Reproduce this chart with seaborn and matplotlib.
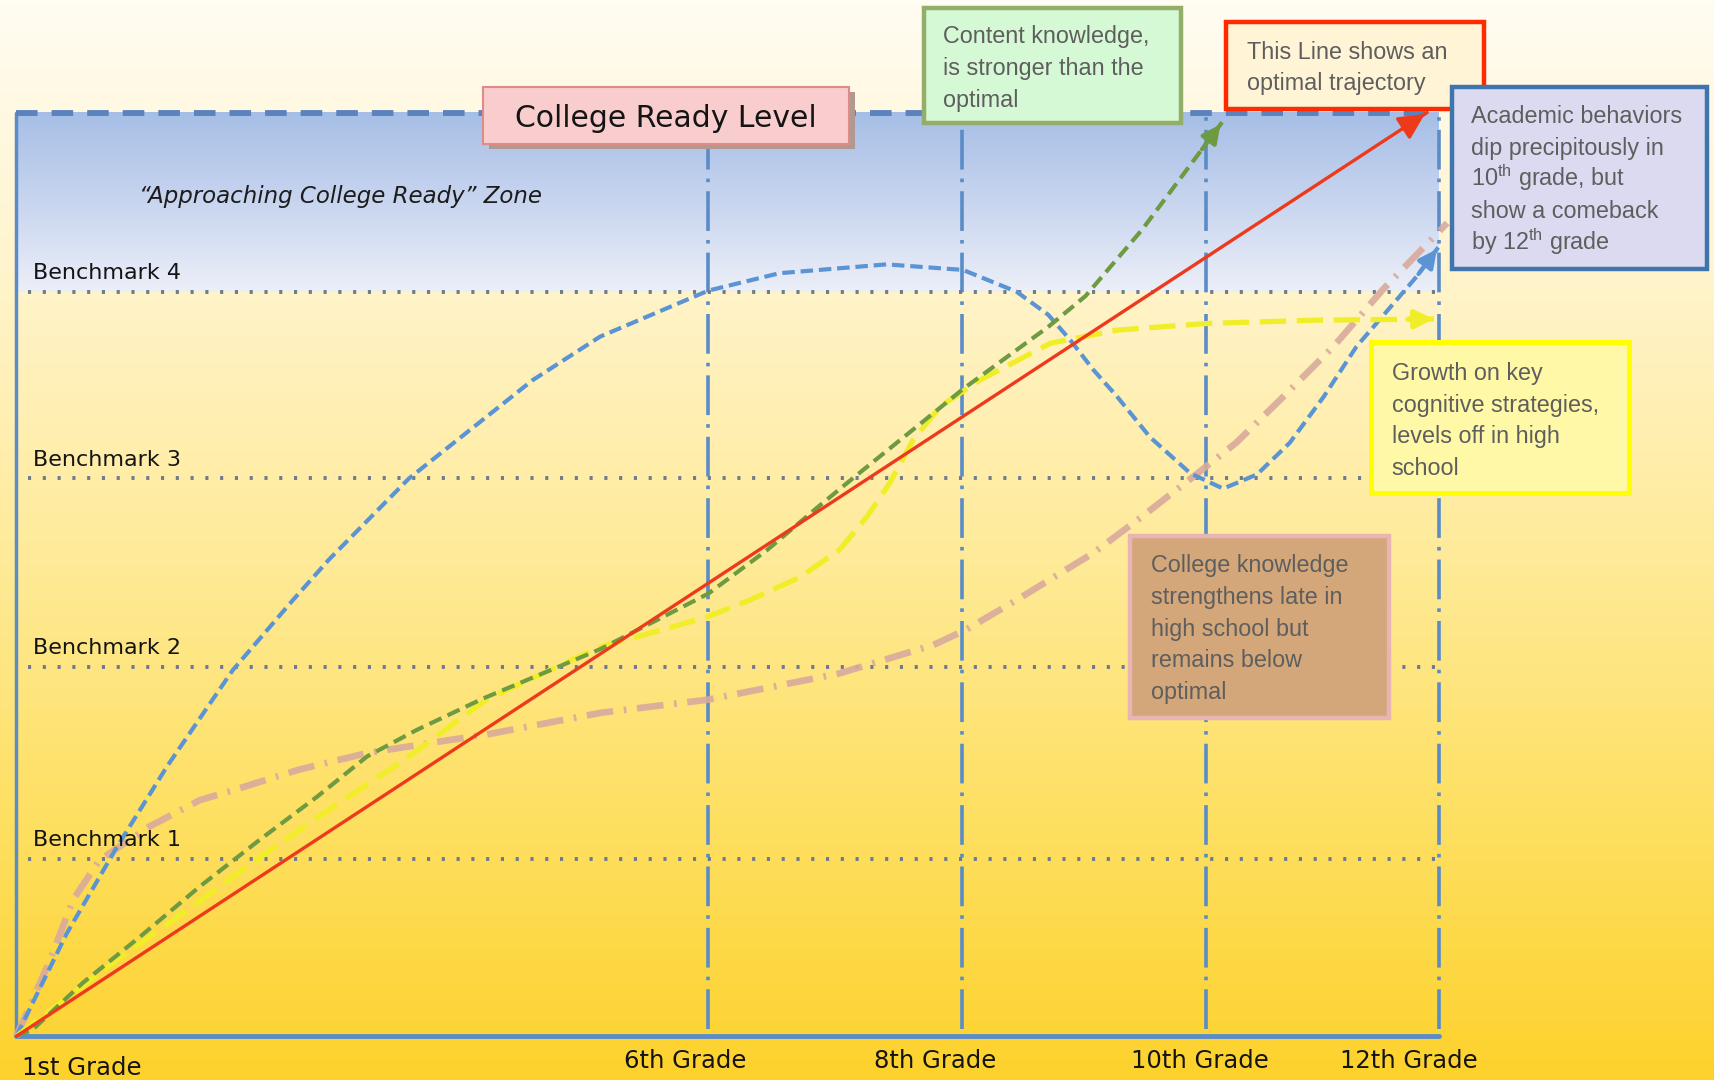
import numpy as np
import pandas as pd
import seaborn as sns
import matplotlib.pyplot as plt
from matplotlib.colors import LinearSegmentedColormap
from matplotlib.patches import Rectangle

# x positions of the grade lines (the original is not evenly spaced)
GRADES = ["1st Grade", "6th Grade", "8th Grade", "10th Grade", "12th Grade"]
GRADE_X = [0.0, 4.865, 6.649, 8.363, 10.0]
BENCHMARKS = ["Benchmark 1", "Benchmark 2", "Benchmark 3", "Benchmark 4"]
BENCH_Y = [0.96, 2.0, 3.02, 4.03]
COLLEGE_READY = 5.0

# optimal trajectory (red)
optimal_x = [0.0, 9.92]
optimal_y = [0.0, 5.0]
# content knowledge (green)
content_x = [0, 0.115, 0.469, 0.869, 1.291, 1.714, 2.114, 2.467, 2.813, 3.282, 4.105, 4.866, 5.281,
             5.626, 5.888, 6.211, 6.449, 6.656, 6.941, 7.256, 7.517, 7.917, 8.478]
content_y = [0, 0.036, 0.290, 0.538, 0.811, 1.065, 1.296, 1.515, 1.657, 1.828, 2.095, 2.396, 2.633,
             2.858, 3.024, 3.225, 3.373, 3.503, 3.663, 3.840, 4.006, 4.367, 4.947]
# key cognitive strategies (yellow)
cognitive_x = [0, 0.707, 1.176, 1.760, 2.229, 2.698, 3.305, 4.105, 4.573, 4.866, 5.158, 5.511, 5.788,
               5.980, 6.141, 6.303, 6.495, 6.772, 7.271, 7.740, 8.370, 9.147, 9.985]
cognitive_y = [0, 0.414, 0.669, 0.994, 1.243, 1.479, 1.822, 2.107, 2.207, 2.272, 2.361, 2.485, 2.633,
               2.811, 2.994, 3.225, 3.408, 3.550, 3.751, 3.822, 3.858, 3.876, 3.882]
# academic behaviors (blue)
behavior_x = [0, 0.354, 0.707, 1.061, 1.522, 1.945, 2.198, 2.759, 3.628, 4.105, 4.866, 5.365, 6.118,
              6.656, 7.033, 7.256, 7.410, 7.571, 7.740, 7.971, 8.255, 8.486, 8.724, 8.955, 9.193,
              9.424, 9.662, 9.846, 10.0]
behavior_y = [0, 0.556, 1.024, 1.462, 1.982, 2.361, 2.580, 3.018, 3.550, 3.787, 4.036, 4.130, 4.178,
              4.148, 4.030, 3.905, 3.769, 3.609, 3.462, 3.243, 3.047, 2.964, 3.041, 3.213, 3.462,
              3.734, 3.947, 4.112, 4.272]
# college knowledge (pink)
knowledge_x = [0, 0.238, 0.400, 0.584, 0.938, 1.291, 1.522, 1.991, 2.467, 3.052, 3.305, 4.112, 4.866,
               5.788, 6.449, 6.679, 7.033, 7.571, 7.902, 8.278, 8.578, 8.909, 9.262, 9.608, 10.061]
knowledge_y = [0, 0.414, 0.740, 0.953, 1.136, 1.278, 1.331, 1.444, 1.533, 1.604, 1.633, 1.751, 1.822,
               1.964, 2.118, 2.201, 2.361, 2.615, 2.805, 3.030, 3.213, 3.462, 3.734, 4.041, 4.402]

content_note = ["Content knowledge,", "is stronger than the", "optimal"]
optimal_note = ["This Line shows an", "optimal trajectory"]
behavior_note = ["Academic behaviors", "dip precipitously in", "10$^{\\mathrm{th}}$ grade, but",
                 "show a comeback", "by 12$^{\\mathrm{th}}$ grade"]
cognitive_note = ["Growth on key", "cognitive strategies,", "levels off in high", "school"]
knowledge_note = ["College knowledge", "strengthens late in", "high school but", "remains below",
                  "optimal"]

sns.set_theme(style="white")
plt.rcParams["font.family"] = ["DejaVu Sans"]
plt.rcParams["mathtext.fontset"] = "custom"
plt.rcParams["mathtext.rm"] = "Liberation Sans"
BOXFONT = ["Liberation Sans", "DejaVu Sans"]

fig = plt.figure(figsize=(17.14, 10.8), dpi=100)
ax = fig.add_axes([0, 0, 1, 1])
XLIM = (-0.115, 11.937)
YLIM = (-0.237, 5.609)

# background gradients
bg = LinearSegmentedColormap.from_list("bg", ["#fdd22c", "#fee064", "#ffeb9c", "#fff4cc", "#fffcf2"])
ax.imshow(np.linspace(0, 1, 256).reshape(-1, 1), cmap=bg, origin="lower", aspect="auto",
          extent=(*XLIM, *YLIM), zorder=0)
zone = LinearSegmentedColormap.from_list("zone", ["#eceff8", "#c8d5ef", "#a6bee6"])
ax.imshow(np.linspace(0, 1, 256).reshape(-1, 1), cmap=zone, origin="lower", aspect="auto",
          extent=(0, GRADE_X[-1], BENCH_Y[-1], COLLEGE_READY), zorder=1)

line_blue = "#5a8cc8"
# frame, grade lines and benchmarks
ax.plot([0, 0], [0, COLLEGE_READY], color=line_blue, lw=2.5, zorder=2)
ax.plot([0, GRADE_X[-1]], [0, 0], color=line_blue, lw=3.5, zorder=2)
ax.plot([0, GRADE_X[-1]], [COLLEGE_READY, COLLEGE_READY], color="#5a82bd", lw=4.2,
        linestyle=(0, (3.7, 2.4)), zorder=2)
ax.vlines(GRADE_X[1:], 0.04, COLLEGE_READY, color=line_blue, lw=2.6,
          linestyles=[(0, (11, 2.5, 1, 2.5))], zorder=2)
ax.hlines(BENCH_Y, 0.08, GRADE_X[-1], color="#6d7a8e", lw=2.8,
          linestyles=[(0, (0.8, 3.0))], zorder=2)

for name, y in zip(BENCHMARKS, BENCH_Y):
    ax.text(0.12, y + 0.1, name, fontsize=16, color="#141414", va="center", ha="left", zorder=6)

label_x = [0.46, 4.70, 6.46, 8.32, 9.79]
label_y = [-0.172, -0.136, -0.136, -0.136, -0.136]
for name, x, y in zip(GRADES, label_x, label_y):
    ax.text(x, y, name, fontsize=17.5, color="#141414", va="center", ha="center", zorder=6)

ax.text(2.28, 4.545, "\u201cApproaching College Ready\u201d Zone", fontsize=16.5, style="italic",
        color="#1c1c1c", va="center", ha="center", zorder=6)

# trajectories
curves = [
    (knowledge_x, knowledge_y, "#d9aa9c", 4.8, (0, (4, 1.6, 0.4, 1.6)), 0.9, None),
    (behavior_x, behavior_y, "#5b94d4", 3.0, (0, (3, 1.4)), 1, 0.9),
    (cognitive_x, cognitive_y, "#f0ee28", 3.8, (0, (5, 2)), 1, 0.9),
    (content_x, content_y, "#6e9a42", 3.0, (0, (3.2, 1.6)), 1, 0.9),
    (optimal_x, optimal_y, "#ee3a1c", 2.4, "-", 1, 1.3),
]
for xs, ys, c, lw, ls, a, head in curves:
    sns.lineplot(x=xs, y=ys, color=c, linewidth=lw, linestyle=ls, alpha=a, ax=ax,
                 legend=False, zorder=4)
    if head:
        dx, dy = xs[-1] - xs[-2], ys[-1] - ys[-2]
        t = 0.22 / np.hypot(dx, dy)
        ax.annotate("", xy=(xs[-1], ys[-1]), xytext=(xs[-1] - t * dx, ys[-1] - t * dy),
                    arrowprops=dict(arrowstyle=f"-|>,head_length={head},head_width={head / 2}",
                                    color=c, lw=lw), zorder=4)


def box(x0, y0, x1, y1, face, edge, lw, z=7):
    ax.add_patch(Rectangle((x0, y0), x1 - x0, y1 - y0, facecolor=face, edgecolor=edge,
                           lw=lw, zorder=z))


def callout(x, y, lines, step=0.1716):
    # one text per line so that superscripts do not change the spacing
    for i, line in enumerate(lines):
        ax.text(x, y - i * step - 0.045, line, fontsize=16.8, color="#5e5e5e", ha="left",
                va="baseline", family=BOXFONT, zorder=8)


# "College Ready Level" label
box(3.32, 4.80, 5.90, 5.11, "#b09a90", "none", 0, z=6)
box(3.28, 4.83, 5.857, 5.136, "#f9cdcd", "#e08a8a", 1.5)
ax.text(4.57, 4.97, "College Ready Level", fontsize=21.5, color="#141414", ha="center",
        va="center", zorder=8)

# callout boxes
box(6.38, 4.941, 8.19, 5.568, "#d5f8d5", "#93ae69", 3.2)
callout(6.518, 5.420, content_note)

box(8.509, 5.018, 10.323, 5.491, "#fff4d6", "#ff2a00", 3.2)
callout(8.655, 5.337, optimal_note)

box(10.092, 4.154, 11.891, 5.136, "#dbdaf1", "#3f74ad", 3.2)
callout(10.23, 4.988, behavior_note)

box(9.523, 2.941, 11.337, 3.757, "#fff8a6", "#ffff00", 3.6)
callout(9.67, 3.598, cognitive_note)

box(7.832, 1.722, 9.654, 2.710, "#d4a77a", "#e9b4b4", 3.2)
callout(7.978, 2.556, knowledge_note)

ax.set_xlim(*XLIM)
ax.set_ylim(*YLIM)
ax.set_axis_off()

fig.savefig("out.png", dpi=100)
